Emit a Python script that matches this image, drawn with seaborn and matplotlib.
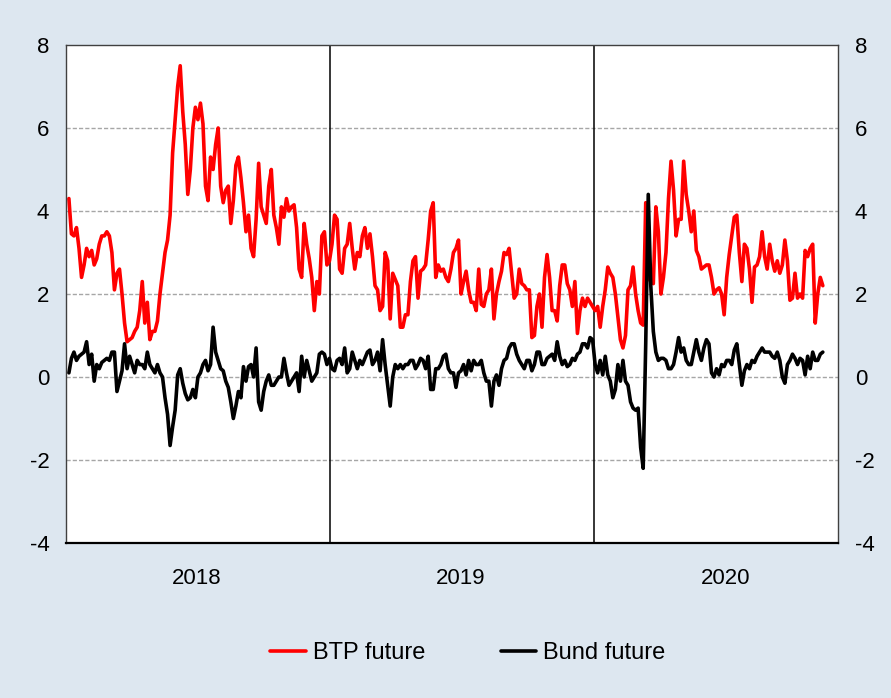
import matplotlib
matplotlib.use("Agg")
import matplotlib.dates as mdates
import matplotlib.pyplot as plt
import pandas as pd
import seaborn as sns

# readings every half week, starting 2018-01-05
start_date = "2018-01-05"
btp = [
    4.3, 3.45, 3.4, 3.6, 3.1, 2.4, 2.7, 3.1, 2.9, 3.05, 2.7, 2.85, 3.2, 3.4, 3.4, 3.5, 3.4, 3.0, 2.1, 2.5,
    2.6, 2.0, 1.3, 0.85, 0.9, 0.95, 1.1, 1.2, 1.6, 2.3, 1.3, 1.8, 0.9, 1.1, 1.1, 1.35, 2.0, 2.5, 3.0, 3.3,
    3.9, 5.4, 6.2, 7.0, 7.5, 6.4, 5.6, 4.4, 5.0, 6.0, 6.5, 6.2, 6.6, 6.1, 4.6, 4.25, 5.3, 5.0, 5.6, 6.0,
    4.6, 4.2, 4.5, 4.6, 3.7, 4.25, 5.1, 5.3, 4.8, 4.2, 3.5, 3.9, 3.1, 2.9, 3.8, 5.15, 4.1, 3.9, 3.7, 4.6,
    5.0, 3.9, 3.6, 3.2, 4.1, 3.85, 4.3, 4.0, 4.1, 4.15, 3.6, 2.6, 2.4, 3.7, 3.2, 2.85, 2.4, 1.6, 2.3, 2.0,
    3.4, 3.5, 2.7, 2.8, 3.2, 3.9, 3.8, 2.6, 2.5, 3.1, 3.2, 3.7, 3.1, 2.6, 3.0, 2.9, 3.4, 3.6, 3.1, 3.45,
    2.9, 2.2, 2.1, 1.6, 1.7, 3.0, 2.8, 1.4, 2.5, 2.35, 2.2, 1.2, 1.2, 1.5, 1.5, 2.3, 2.8, 2.9, 1.9, 2.55,
    2.6, 2.7, 3.3, 4.0, 4.2, 2.4, 2.7, 2.55, 2.6, 2.4, 2.3, 2.6, 3.0, 3.1, 3.3, 2.0, 2.3, 2.55, 2.1, 1.8,
    1.8, 1.6, 2.6, 1.75, 1.7, 2.0, 2.1, 2.6, 1.4, 2.0, 2.3, 2.55, 3.0, 2.95, 3.1, 2.5, 1.9, 2.0, 2.6, 2.25,
    2.2, 2.1, 2.1, 0.95, 1.0, 1.7, 2.0, 1.2, 2.4, 2.95, 2.4, 1.6, 1.6, 1.35, 2.2, 2.7, 2.7, 2.25, 2.1, 1.7,
    2.3, 1.05, 1.6, 1.9, 1.7, 1.9, 1.8, 1.7, 1.6, 1.7, 1.2, 1.7, 2.1, 2.65, 2.5, 2.4, 2.0, 1.45, 0.9, 0.7,
    1.0, 2.1, 2.2, 2.65, 2.0, 1.6, 1.3, 1.25, 4.2, 2.4, 2.3, 2.25, 4.1, 3.5, 2.0, 2.4, 3.0, 4.3, 5.2, 4.5,
    3.4, 3.8, 3.8, 5.2, 4.4, 4.0, 3.5, 4.0, 3.05, 2.9, 2.6, 2.65, 2.7, 2.7, 2.4, 2.0, 2.1, 2.15, 2.0, 1.5,
    2.4, 2.95, 3.4, 3.85, 3.9, 3.0, 2.3, 3.2, 3.1, 2.6, 1.8, 2.65, 2.7, 2.9, 3.5, 2.9, 2.6, 3.2, 2.8, 2.55,
    2.8, 2.5, 2.7, 3.3, 2.8, 1.85, 1.9, 2.5, 1.9, 2.0, 1.9, 3.05, 2.9, 3.1, 3.2, 1.3, 2.0, 2.4, 2.2,
]
bund = [
    0.1, 0.45, 0.6, 0.4, 0.5, 0.55, 0.6, 0.85, 0.3, 0.55, -0.1, 0.3, 0.2, 0.35, 0.4, 0.45, 0.4, 0.6, 0.6, -0.35,
    -0.1, 0.15, 0.8, 0.2, 0.5, 0.3, 0.1, 0.4, 0.3, 0.3, 0.2, 0.6, 0.3, 0.2, 0.1, 0.3, 0.1, 0.0, -0.5, -0.9,
    -1.65, -1.2, -0.8, 0.05, 0.2, -0.15, -0.4, -0.55, -0.5, -0.3, -0.5, 0.0, 0.1, 0.3, 0.4, 0.15, 0.3, 1.2, 0.6, 0.4,
    0.2, 0.15, -0.1, -0.25, -0.6, -1.0, -0.7, -0.35, -0.5, 0.25, -0.1, 0.25, 0.3, 0.0, 0.7, -0.6, -0.8, -0.35, -0.1, 0.05,
    -0.2, -0.2, -0.1, 0.0, 0.0, 0.45, 0.1, -0.2, -0.1, 0.0, 0.1, -0.35, 0.5, 0.0, 0.4, 0.15, -0.1, 0.0, 0.1, 0.55,
    0.6, 0.55, 0.3, 0.45, 0.2, 0.15, 0.4, 0.45, 0.3, 0.7, 0.1, 0.2, 0.6, 0.4, 0.2, 0.4, 0.3, 0.45, 0.6, 0.65,
    0.3, 0.4, 0.6, 0.15, 0.9, 0.3, -0.2, -0.7, 0.0, 0.3, 0.2, 0.3, 0.2, 0.3, 0.3, 0.4, 0.4, 0.2, 0.3, 0.45,
    0.4, 0.2, 0.5, -0.3, -0.3, 0.2, 0.2, 0.3, 0.5, 0.55, 0.2, 0.1, 0.1, -0.25, 0.1, 0.15, 0.3, 0.05, 0.4, 0.15,
    0.4, 0.3, 0.3, 0.4, 0.1, -0.1, -0.1, -0.7, -0.1, 0.05, -0.2, 0.2, 0.4, 0.45, 0.7, 0.8, 0.8, 0.55, 0.4, 0.3,
    0.2, 0.4, 0.4, 0.15, 0.3, 0.6, 0.6, 0.3, 0.3, 0.45, 0.5, 0.55, 0.4, 0.85, 0.5, 0.3, 0.4, 0.25, 0.3, 0.45,
    0.4, 0.55, 0.6, 0.8, 0.8, 0.7, 0.95, 0.9, 0.3, 0.1, 0.4, 0.05, 0.5, 0.05, -0.1, -0.5, -0.3, 0.3, -0.1, 0.4,
    -0.1, -0.2, -0.6, -0.75, -0.8, -0.75, -1.7, -2.2, 0.8, 4.4, 2.2, 1.1, 0.6, 0.4, 0.45, 0.45, 0.4, 0.2, 0.2, 0.3,
    0.6, 0.95, 0.6, 0.7, 0.4, 0.3, 0.3, 0.6, 0.9, 0.6, 0.4, 0.7, 0.9, 0.8, 0.1, 0.0, 0.2, 0.05, 0.3, 0.25,
    0.4, 0.4, 0.3, 0.65, 0.8, 0.3, -0.2, 0.15, 0.3, 0.2, 0.4, 0.35, 0.5, 0.6, 0.7, 0.6, 0.6, 0.6, 0.5, 0.45,
    0.6, 0.4, 0.0, -0.15, 0.3, 0.4, 0.55, 0.45, 0.3, 0.45, 0.4, 0.05, 0.5, 0.2, 0.6, 0.4, 0.4, 0.55, 0.6,
]
series_names = ["BTP future", "Bund future"]
series_colors = ["#ff0000", "#000000"]
y_ticks = [-4, -2, 0, 2, 4, 6, 8]
grid_levels = [-2, 0, 2, 4, 6]
year_breaks = ["2019-01-01", "2020-01-01"]
x_start, x_end = "2018-01-01", "2020-12-04"

BG = "#dde7f0"

dates = pd.date_range(start_date, periods=len(btp), freq="84h")
df = pd.concat([
    pd.DataFrame({"date": dates, "value": btp, "series": series_names[0]}),
    pd.DataFrame({"date": dates, "value": bund, "series": series_names[1]}),
], ignore_index=True)

sns.set_style("white")
plt.rcParams["font.family"] = ["Liberation Sans", "DejaVu Sans"]
plt.rcParams["axes.unicode_minus"] = False

fig = plt.figure(figsize=(8.91, 6.98), dpi=100, facecolor=BG)
ax = fig.add_axes([66 / 891, 1 - 543 / 698, (838 - 66) / 891, (543 - 45) / 698])
ax.set_facecolor("white")

for lvl in grid_levels:
    ax.axhline(lvl, color="#a6a6a6", lw=1.0, ls=(0, (3, 1.5)), zorder=0.5)
for yb in year_breaks:
    ax.axvline(pd.Timestamp(yb), color="black", lw=1.1, zorder=0.6)

sns.lineplot(data=df, x="date", y="value", hue="series",
             palette=dict(zip(series_names, series_colors)),
             linewidth=2.6, ax=ax)

ax.set_xlim(pd.Timestamp(x_start), pd.Timestamp(x_end))
ax.set_ylim(y_ticks[0], y_ticks[-1])
ax.set_yticks(y_ticks)
ax.set_xlabel("")
ax.set_ylabel("")

ax.xaxis.set_major_locator(mdates.MonthLocator(bymonth=7))
ax.xaxis.set_major_formatter(mdates.DateFormatter("%Y"))
ax.xaxis.set_minor_locator(mdates.MonthLocator())
ax.tick_params(axis="x", which="major", direction="in", length=9, width=1,
               pad=18, labelsize=16, color="black", labelcolor="black")
ax.tick_params(axis="x", which="minor", direction="in", length=5, width=1,
               color="black")
ax.tick_params(axis="y", length=0, labelsize=16, pad=12,
               labelleft=True, labelright=True, labelcolor="black")

for side in ["left", "top", "right"]:
    ax.spines[side].set_color("#404040")
    ax.spines[side].set_linewidth(1.0)
ax.spines["bottom"].set_color("black")
ax.spines["bottom"].set_linewidth(1.6)

handles, labels = ax.get_legend_handles_labels()
ax.get_legend().remove()
fig.legend(handles, labels, loc="center", bbox_to_anchor=(0.525, 0.064), ncol=2,
           frameon=False, fontsize=17, handlelength=1.5, handletextpad=0.3,
           columnspacing=3.2, labelcolor="black")

fig.savefig("out.png", dpi=100, facecolor=BG)
plt.close(fig)
